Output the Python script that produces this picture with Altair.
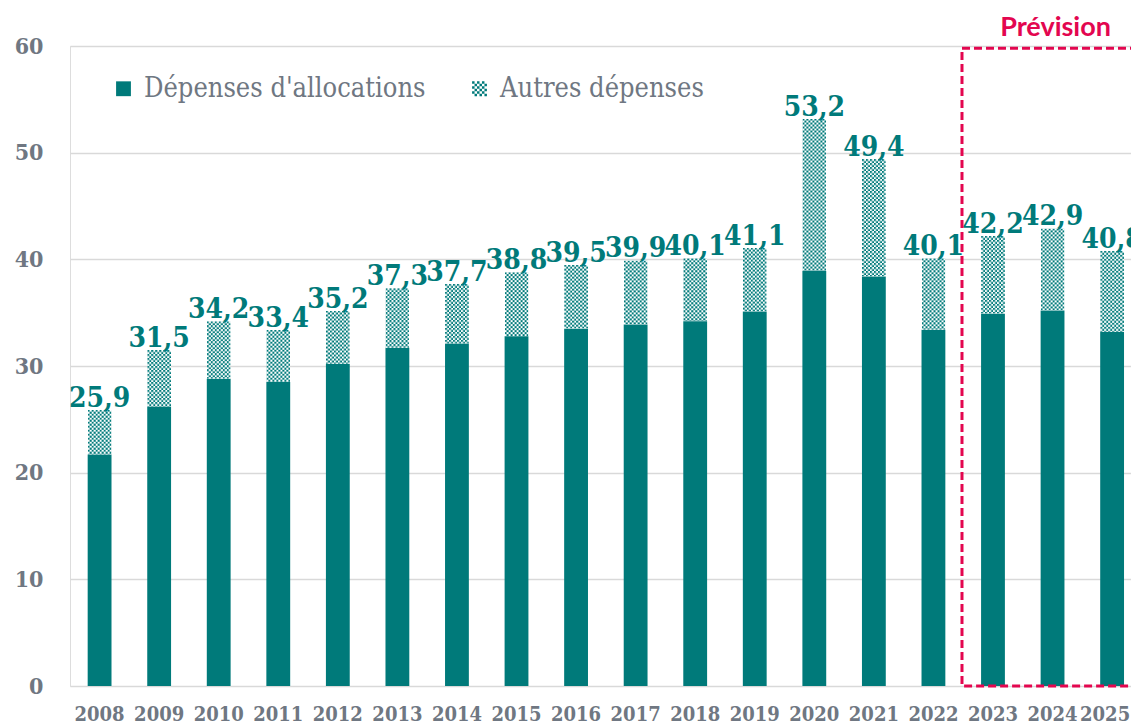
import base64
import altair as alt
import pandas as pd

# ---- data ----
years = [str(y) for y in range(2008, 2026)]
totals = [25.9, 31.5, 34.2, 33.4, 35.2, 37.3, 37.7, 38.8, 39.5, 39.9,
          40.1, 41.1, 53.2, 49.4, 40.1, 42.2, 42.9, 40.8]
allocations = [21.7, 26.2, 28.8, 28.5, 30.2, 31.7, 32.1, 32.8, 33.5, 33.9,
               34.2, 35.1, 38.9, 38.4, 33.4, 34.9, 35.2, 33.2]
series_names = ["Dépenses d'allocations", "Autres dépenses"]
y_ticks = [0, 10, 20, 30, 40, 50, 60]
forecast_start, forecast_end, forecast_mid = "2023", "2025", "2024"
forecast_label = "Prévision"

TEAL = "#007a7a"
GRAY = "#6f7782"
RED = "#e3064f"
SERIF = "DejaVu Serif Condensed, DejaVu Serif"

df = pd.DataFrame({
    "year": years,
    "alloc": allocations,
    "total": totals,
    "label": [f"{v:.1f}".replace(".", ",") for v in totals],
})

# checker texture (fixed pixel size, no viewBox so it tiles without stretching)
checker_svg = (
    '<svg xmlns="http://www.w3.org/2000/svg" width="100%" height="100%">'
    '<defs><pattern id="p" width="4" height="4" patternUnits="userSpaceOnUse">'
    '<rect width="4" height="4" fill="#ffffff"/>'
    f'<rect width="2" height="2" fill="{TEAL}"/>'
    f'<rect x="2" y="2" width="2" height="2" fill="{TEAL}"/>'
    '</pattern></defs>'
    '<rect width="100%" height="100%" fill="url(#p)"/></svg>'
)
checker_url = "data:image/svg+xml;base64," + base64.b64encode(checker_svg.encode()).decode()
df["tex"] = checker_url

# legend checker symbol path (6x6 cells inside [-1,1])
cells = []
s = 2 / 6
for i in range(6):
    for j in range(6):
        if (i + j) % 2 == 0:
            x0 = -1 + i * s
            y0 = -1 + j * s
            cells.append(f"M{x0:.4f},{y0:.4f}h{s:.4f}v{s:.4f}h{-s:.4f}Z")
checker_path = "".join(cells)

xscale = alt.Scale(domain=years, paddingInner=0.6, paddingOuter=0.207, align=0.717, round=False)
yscale = alt.Scale(domain=[0, 60], nice=False)

base = alt.Chart(df)

x_enc = alt.X("year:O", scale=xscale, sort=years,
              axis=alt.Axis(title=None, domain=False, ticks=False, labelAngle=0,
                            labelFont=SERIF, labelFontWeight="bold",
                            labelFontSize=20, labelColor=GRAY, labelPadding=18,
                            labelOffset=alt.expr(f"datum.value == '{years[-1]}' ? -7 : 0")))
y_axis = alt.Axis(title=None, values=y_ticks, grid=True, gridColor="#d9d9d9", gridWidth=1.5,
                  domain=False, ticks=False, labelFont=SERIF, labelFontWeight="bold",
                  labelFontSize=23, labelColor=GRAY, labelPadding=27)

bars = base.mark_bar(color=TEAL).encode(
    x=x_enc,
    y=alt.Y("alloc:Q", scale=yscale, axis=y_axis),
    y2=alt.datum(0),
)

texture = base.mark_image(aspect=False).encode(
    x=alt.X("year:O", scale=xscale, sort=years),
    y=alt.Y("total:Q", scale=yscale),
    y2="alloc:Q",
    url="tex:N",
)

labels = base.mark_text(baseline="alphabetic", dy=-3, font=SERIF,
                        fontWeight="bold", fontSize=28, color=TEAL).encode(
    x=alt.X("year:O", scale=xscale, sort=years),
    y=alt.Y("total:Q", scale=yscale),
    text="label:N",
)

box_df = pd.DataFrame({"year": [forecast_start], "year_end": [forecast_end],
                       "top": [59.8], "bottom": [0.0]})
box = alt.Chart(box_df).mark_rect(fillOpacity=0, stroke=RED, strokeWidth=3,
                                  strokeDash=[8, 4], xOffset=-31, x2Offset=70).encode(
    x=alt.X("year:O", scale=xscale, sort=years),
    x2="year_end:O",
    y=alt.Y("top:Q", scale=yscale),
    y2="bottom:Q",
)

prev_df = pd.DataFrame({"year": [forecast_mid], "v": [60], "t": [forecast_label]})
prev = alt.Chart(prev_df).mark_text(baseline="alphabetic", dy=-10, dx=3, font="Lato",
                                    fontWeight="bold", fontSize=27, color=RED).encode(
    x=alt.X("year:O", scale=xscale, sort=years),
    y=alt.Y("v:Q", scale=yscale),
    text="t:N",
)

leg = dict(title=None, orient="none", legendX=40, legendY=29,
           direction="horizontal", labelFont=SERIF, labelFontSize=27,
           labelColor=GRAY, labelLimit=500, symbolSize=220,
           symbolStrokeWidth=0, columnPadding=40, labelOffset=7, padding=0)

leg_df = pd.DataFrame({"type": series_names})
legend_layer = alt.Chart(leg_df).mark_point(filled=True, clip=True, opacity=1).encode(
    x=alt.value(-2000),
    y=alt.value(-2000),
    color=alt.Color("type:N", scale=alt.Scale(domain=series_names, range=[TEAL, TEAL]),
                    legend=alt.Legend(**leg)),
    shape=alt.Shape("type:N", scale=alt.Scale(domain=series_names, range=["square", checker_path]),
                    legend=alt.Legend(**leg)),
)

chart = alt.layer(bars, texture, labels, box, prev, legend_layer).properties(
    width=1061,
    height=640,
    autosize=alt.AutoSizeParams(type="none"),
    padding={"left": 62, "top": 38, "right": 0, "bottom": 38},
).configure_view(stroke=None).configure(background="white")

chart.save("out.html", embed_options={"renderer": "svg", "actions": False})
